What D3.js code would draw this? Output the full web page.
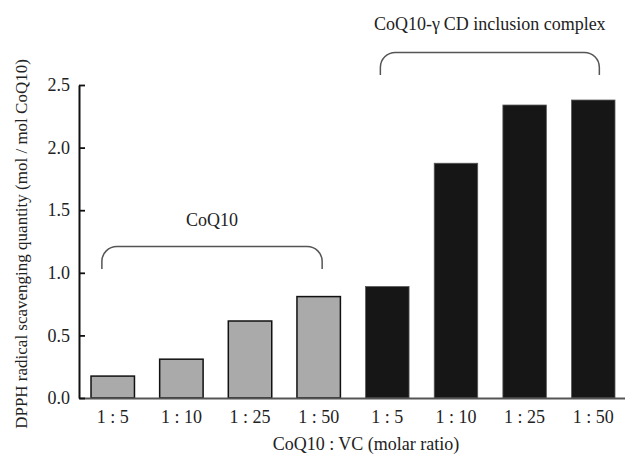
<!DOCTYPE html>
<html>
<head>
<meta charset="utf-8">
<script src="https://cdn.jsdelivr.net/npm/d3@7"></script>
<style>
  body { margin: 0; background: #fff; }
  text { font-family: "Liberation Serif", "Times New Roman", serif; fill: #222; }
</style>
</head>
<body>
<div id="container"></div>
<script>
// chart data
const ratios = ["1 : 5", "1 : 10", "1 : 25", "1 : 50"];
const groups = ["CoQ10", "CoQ10-\u03b3\u2009CD inclusion complex"];
const coq10Values = [0.175, 0.31, 0.615, 0.81];
const complexValues = [0.89, 1.875, 2.34, 2.38];
const yTicks = [0, 0.5, 1.0, 1.5, 2.0, 2.5];

const xTitle = "CoQ10 : VC (molar ratio)";
const yTitle = "DPPH radical scavenging quantity (mol / mol CoQ10)";

// build rows for the bars
const rows = [];
ratios.forEach((r, i) => rows.push({ key: "a" + i, ratio: r, group: 0, value: coq10Values[i] }));
ratios.forEach((r, i) => rows.push({ key: "b" + i, ratio: r, group: 1, value: complexValues[i] }));

const W = 625, H = 457;
const svg = d3.select("#container")
  .append("svg")
  .attr("width", W)
  .attr("height", H);

/*=== scales ===*/
const x = d3.scaleBand()
  .domain(rows.map(d => d.key))
  .range([79, 627])
  .paddingInner(0.367)
  .paddingOuter(0.175);

const y = d3.scaleLinear()
  .domain([0, 2.5])
  .range([398, 85]);

/*=== bars ===*/
svg.append("g")
  .selectAll("rect")
  .data(rows)
  .enter()
  .append("rect")
  .attr("x", d => x(d.key))
  .attr("y", d => y(d.value))
  .attr("width", x.bandwidth())
  .attr("height", d => y(0) - y(d.value))
  .attr("fill", d => d.group === 0 ? "#aaaaaa" : "#161616")
  .attr("stroke", d => d.group === 0 ? "#111" : "#555")
  .attr("stroke-width", d => d.group === 0 ? 1.5 : 0.8);

/*=== x axis ===*/
const xAxis = d3.axisBottom(x)
  .tickSize(0)
  .tickPadding(12)
  .tickFormat(k => rows.find(r => r.key === k).ratio);

const gx = svg.append("g")
  .attr("transform", `translate(0, ${y(0)})`)
  .call(xAxis);
gx.select(".domain").attr("stroke", "#555").attr("stroke-width", 2.2);
gx.selectAll("text")
  .attr("font-size", 18)
  .attr("font-family", "Liberation Serif, serif")
  .attr("fill", "#222");

/*=== y axis ===*/
const yAxis = d3.axisRight(y)
  .tickValues(yTicks)
  .tickSize(6)
  .tickSizeOuter(0)
  .tickFormat(d3.format(".1f"));

const gy = svg.append("g")
  .attr("transform", "translate(79, 0)")
  .call(yAxis);
gy.select(".domain").attr("stroke", "#111").attr("stroke-width", 2);
gy.selectAll(".tick line").attr("stroke", "#111").attr("stroke-width", 1.8);
gy.selectAll("text")
  .attr("x", -9)
  .attr("text-anchor", "end")
  .attr("font-size", 18)
  .attr("font-family", "Liberation Serif, serif")
  .attr("fill", "#222");

/*=== brackets ===*/
const brackets = [
  { from: "a0", to: "a3", f0: 0.25, f1: 0.58, top: 1.21, bottom: 1.03, label: groups[0], ly: 226 },
  { from: "b0", to: "b3", f0: 0.34, f1: 0.64, top: 2.76, bottom: 2.58, label: groups[1], ly: 30 }
];

brackets.forEach(b => {
  const x0 = x(b.from) + x.bandwidth() * b.f0;
  const x1 = x(b.to) + x.bandwidth() * b.f1;
  const yt = y(b.top), yb = y(b.bottom);
  const r = 15;
  const p = d3.path();
  p.moveTo(x0, yb);
  p.lineTo(x0, yt + r);
  p.arcTo(x0, yt, x0 + r, yt, r);
  p.lineTo(x1 - r, yt);
  p.arcTo(x1, yt, x1, yt + r, r);
  p.lineTo(x1, yb);
  svg.append("path")
    .attr("d", p.toString())
    .attr("fill", "none")
    .attr("stroke", "#555")
    .attr("stroke-width", 1.5);

  svg.append("text")
    .attr("x", (x0 + x1) / 2)
    .attr("y", b.ly)
    .attr("text-anchor", "middle")
    .attr("font-size", 18)
    .text(b.label);
});

/*=== titles ===*/
svg.append("text")
  .attr("x", 366)
  .attr("y", 450)
  .attr("text-anchor", "middle")
  .attr("font-size", 18)
  .text(xTitle);

svg.append("text")
  .attr("transform", "translate(27, 244) rotate(-90)")
  .attr("text-anchor", "middle")
  .attr("font-size", 17)
  .text(yTitle);
</script>
</body>
</html>
